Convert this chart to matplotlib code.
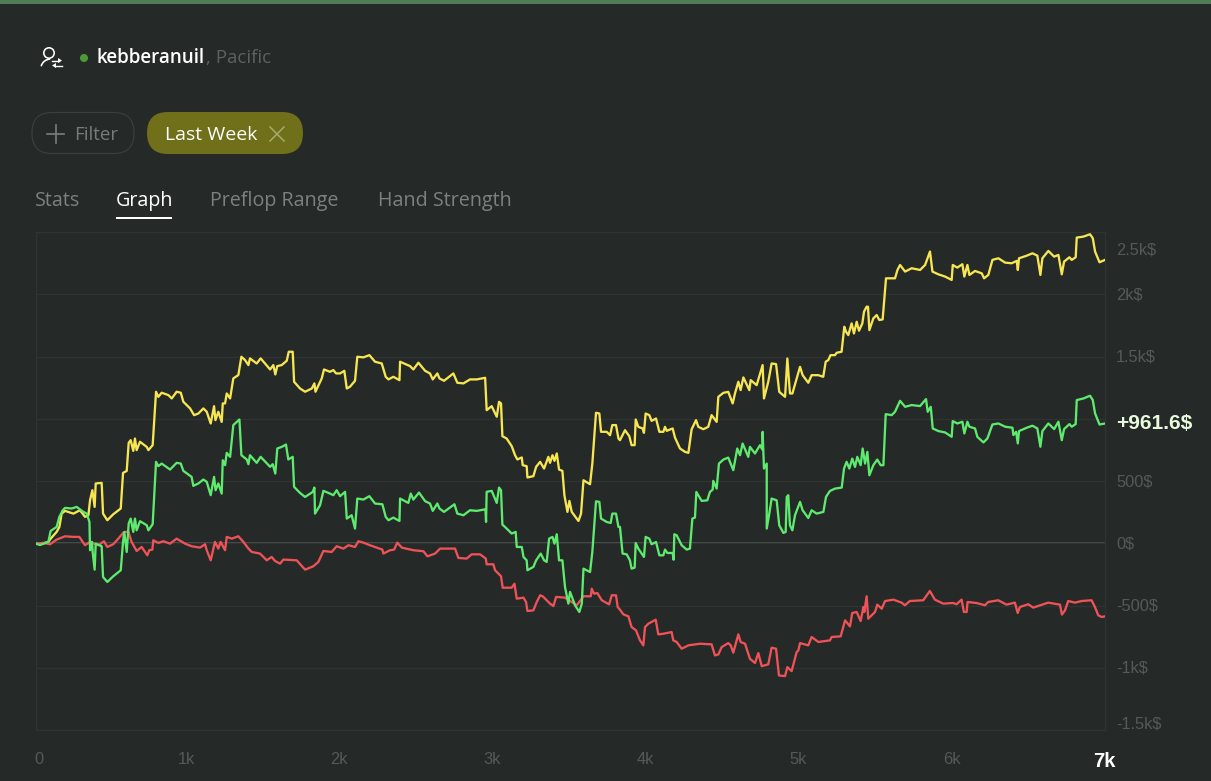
import matplotlib
matplotlib.use("Agg")
import matplotlib.pyplot as plt
from matplotlib.patches import FancyBboxPatch, Circle, Rectangle, Arc, Polygon
from matplotlib.transforms import ScaledTranslation

UI_FONT = "Open Sans"
NUM_FONT = "Liberation Sans"

x_ticks = [0, 1000, 2000, 3000, 4000, 5000, 6000, 7000]
x_labels = ["0", "1k", "2k", "3k", "4k", "5k", "6k", "7k"]
y_ticks = [-1500, -1000, -500, 0, 500, 1000, 1500, 2000, 2500]
y_labels = ["-1.5k$", "-1k$", "-500$", "0$", "500$", "", "1.5k$", "2k$", "2.5k$"]
end_label = "+961.6$"
end_value = 961.6

yellow_hands = [0,26,81,96,135,153,168,190,245,288,321,343,354,369,384,391,430,439,467,506,555,570,594,607,620,637,648,659,681,725,736,764,786,801,823,867,889,921,948,965,1009,1035,1063,1096,1118,1144,1166,1175,1194,1216,1223,1238,1249,1271,1292,1325,1345,1369,1391,1401,1445,1471,1533,1554,1567,1580,1609,1642,1655,1681,1690,1729,1762,1806,1823,1830,1871,1886,1925,1947,1965,1991,2019,2035,2056,2089,2104,2144,2183,2220,2264,2290,2308,2340,2380,2384,2449,2471,2504,2548,2580,2598,2628,2642,2672,2733,2759,2799,2842,2886,2941,2951,2984,3017,3032,3045,3054,3082,3115,3137,3152,3181,3187,3213,3218,3257,3275,3301,3327,3355,3366,3382,3395,3410,3425,3447,3460,3480,3493,3508,3552,3569,3585,3628,3643,3667,3689,3700,3737,3759,3774,3798,3814,3824,3857,3885,3900,3920,3927,3944,3972,3981,3992,4016,4031,4060,4082,4108,4119,4130,4169,4184,4217,4250,4272,4293,4322,4337,4370,4402,4424,4457,4468,4501,4533,4562,4577,4599,4614,4632,4671,4680,4719,4758,4767,4795,4817,4846,4867,4905,4920,4937,4953,5003,5020,5057,5079,5123,5155,5171,5188,5203,5232,5243,5275,5293,5304,5319,5341,5356,5374,5389,5411,5422,5439,5448,5457,5483,5505,5522,5544,5566,5625,5641,5658,5691,5734,5789,5822,5854,5870,5909,5953,5996,6003,6033,6066,6079,6099,6112,6149,6193,6208,6236,6263,6302,6346,6389,6422,6429,6437,6488,6525,6557,6577,6590,6629,6667,6695,6717,6732,6767,6782,6808,6815,6859,6902,6920,6935,6964,7000]
yellow_profit = [-3,-8,11,37,91,131,238,260,238,265,212,225,346,426,292,480,485,238,185,233,279,565,581,807,828,742,841,748,815,774,748,788,1217,1176,1209,1190,1163,1217,1209,1136,1083,1029,1042,1083,1056,962,1101,989,1056,975,1123,1123,1203,1163,1324,1351,1498,1471,1431,1485,1444,1485,1396,1431,1356,1423,1431,1466,1538,1538,1297,1243,1217,1243,1284,1217,1324,1396,1377,1391,1364,1364,1385,1243,1257,1305,1498,1493,1511,1458,1444,1337,1316,1337,1310,1458,1423,1396,1450,1385,1364,1316,1364,1324,1305,1364,1289,1284,1316,1316,1329,1069,1101,1016,1136,1123,860,841,780,707,673,689,627,619,528,539,614,654,600,694,646,707,662,721,592,581,386,252,340,252,179,238,506,474,640,1048,1042,895,895,868,949,949,841,828,908,860,788,788,994,935,922,887,1042,1029,983,1002,895,895,935,903,922,849,761,734,726,914,989,935,916,935,1029,975,1176,1208,1216,1123,1203,1297,1230,1332,1230,1310,1270,1431,1163,1297,1444,1439,1216,1176,1484,1203,1203,1417,1350,1289,1350,1350,1337,1458,1471,1511,1511,1530,1538,1739,1699,1672,1766,1685,1779,1707,1766,1860,1900,1900,1712,1806,1833,1793,1798,2128,2128,2195,2235,2182,2209,2195,2235,2343,2182,2160,2142,2115,2235,2214,2241,2142,2235,2155,2187,2168,2128,2155,2276,2289,2254,2249,2268,2195,2289,2310,2329,2310,2155,2289,2348,2302,2316,2160,2262,2297,2276,2297,2455,2463,2482,2450,2343,2257,2276]

green_hands = [0,26,81,96,135,153,175,190,234,266,310,332,350,354,367,371,384,391,430,439,467,506,555,570,578,594,607,620,637,648,659,681,725,736,764,786,801,823,878,921,948,965,1019,1030,1063,1096,1118,1144,1166,1176,1194,1216,1223,1238,1249,1271,1292,1332,1345,1380,1391,1401,1445,1471,1533,1550,1567,1580,1609,1637,1652,1681,1690,1729,1762,1812,1823,1827,1860,1882,1925,1947,1969,1991,2024,2035,2067,2089,2104,2144,2183,2220,2268,2290,2308,2340,2380,2384,2438,2454,2471,2508,2548,2580,2598,2628,2642,2672,2740,2759,2799,2842,2886,2943,2947,2951,2984,3017,3032,3045,3054,3082,3115,3141,3148,3181,3192,3213,3218,3257,3275,3305,3327,3344,3360,3382,3395,3410,3425,3447,3464,3486,3497,3530,3558,3574,3585,3628,3643,3667,3689,3700,3737,3763,3774,3798,3814,3824,3841,3868,3889,3900,3920,3927,3944,3981,3992,4016,4031,4060,4082,4108,4119,4134,4169,4175,4180,4195,4228,4261,4282,4298,4315,4324,4359,4396,4413,4431,4435,4457,4472,4501,4533,4566,4592,4610,4627,4664,4675,4708,4741,4756,4758,4767,4785,4785,4800,4817,4850,4867,4894,4909,4916,4926,4937,4953,4970,5003,5020,5057,5079,5112,5156,5173,5199,5232,5276,5291,5308,5326,5345,5363,5378,5400,5413,5429,5444,5457,5483,5509,5531,5549,5564,5603,5625,5658,5691,5734,5789,5828,5839,5859,5872,5909,5953,5996,6003,6033,6066,6079,6099,6112,6149,6164,6204,6230,6263,6302,6346,6394,6400,6418,6429,6437,6488,6525,6557,6577,6590,6629,6667,6695,6717,6732,6767,6782,6808,6815,6859,6902,6920,6935,6964,7000]
green_profit = [-3,-14,11,99,131,212,265,284,279,292,252,238,171,-56,11,-70,-212,-3,-24,-271,-311,-265,-217,11,91,-70,158,198,91,198,104,177,145,104,153,654,619,640,592,646,640,581,533,461,480,512,493,386,533,426,480,399,667,627,726,694,949,994,707,673,635,707,646,694,614,635,560,761,774,793,673,694,453,404,372,412,447,238,305,421,399,386,426,378,413,198,225,118,359,351,378,319,313,212,185,206,179,359,324,399,351,407,338,319,260,319,279,252,313,238,225,265,260,273,171,413,421,324,447,426,150,118,78,91,-30,-30,-110,-137,-217,-190,-137,-83,-137,-150,37,51,-3,72,-137,-137,-351,-485,-391,-499,-552,-485,-204,-231,-70,337,332,198,171,163,238,238,131,131,-83,-89,-137,-204,-196,2,-43,-110,51,37,-8,10,-97,-97,-51,-78,-78,-132,72,64,-16,-51,-43,198,206,412,340,345,412,431,501,439,640,672,688,587,761,707,801,694,774,721,788,753,895,600,640,118,225,359,345,144,83,91,372,386,144,104,225,332,265,203,265,238,252,372,420,439,447,600,654,600,680,613,694,627,761,640,734,546,627,672,627,627,1037,1029,1056,1144,1096,1110,1102,1158,1056,1096,922,901,890,855,981,962,976,882,976,936,922,855,810,842,954,962,936,928,869,895,802,901,928,944,922,775,901,962,917,976,828,917,957,936,957,1150,1163,1185,1150,1043,954,962]

red_hands = [0,48,92,135,190,245,284,321,354,408,445,467,506,539,572,604,626,659,692,729,742,762,768,801,834,878,921,976,1019,1074,1107,1118,1144,1172,1194,1209,1238,1249,1282,1325,1358,1391,1413,1467,1511,1543,1565,1598,1620,1707,1762,1816,1849,1882,1936,1969,2013,2046,2089,2111,2144,2187,2268,2275,2318,2345,2366,2395,2471,2537,2563,2613,2646,2744,2766,2820,2853,2908,2945,2951,2995,3006,3045,3056,3115,3133,3148,3192,3209,3218,3257,3279,3301,3318,3366,3388,3406,3464,3541,3585,3633,3639,3654,3676,3705,3753,3770,3798,3809,3824,3846,3879,3900,3929,3955,3977,3988,4010,4058,4075,4108,4162,4173,4195,4228,4272,4348,4424,4446,4468,4490,4533,4549,4566,4599,4614,4643,4675,4708,4730,4752,4795,4817,4846,4865,4905,4920,4948,4981,4992,5003,5057,5079,5123,5199,5210,5269,5298,5330,5345,5374,5400,5418,5424,5439,5450,5494,5509,5538,5560,5614,5668,5690,5722,5810,5853,5886,5941,6006,6028,6061,6076,6094,6100,6159,6214,6235,6301,6355,6410,6428,6443,6497,6530,6628,6705,6718,6738,6759,6803,6847,6912,6934,6956,6978,7000]
red_profit = [-3,3,-8,29,56,51,51,-16,11,-16,16,-30,-8,37,85,96,11,-62,-30,-97,-56,-51,24,3,16,-3,37,-3,-24,-35,-8,-56,-137,11,-43,11,-56,51,37,56,11,-43,-70,-83,-137,-110,-142,-164,-131,-137,-212,-185,-150,-62,-70,-24,-43,-16,-30,16,5,-16,-51,-83,-56,-51,5,-35,-56,-64,-105,-83,-43,-43,-118,-123,-89,-89,-123,-169,-169,-217,-265,-357,-357,-325,-445,-437,-472,-544,-539,-472,-418,-426,-485,-504,-431,-437,-499,-426,-426,-365,-405,-400,-458,-491,-418,-418,-512,-534,-571,-587,-673,-700,-780,-820,-673,-646,-614,-732,-727,-713,-780,-793,-847,-820,-807,-812,-901,-893,-834,-802,-820,-879,-732,-793,-807,-928,-962,-882,-987,-973,-839,-847,-1062,-1067,-995,-1027,-874,-861,-802,-820,-753,-793,-780,-753,-748,-619,-668,-560,-552,-625,-512,-552,-426,-606,-552,-493,-526,-464,-453,-477,-498,-464,-458,-383,-453,-485,-480,-490,-453,-552,-552,-472,-480,-498,-472,-458,-493,-477,-560,-512,-490,-517,-477,-493,-573,-539,-464,-477,-464,-458,-512,-579,-592,-587]

BG = "#252a28"
GRID = "#2f3432"
ZERO = "#505452"
TICK = "#555958"
YELLOW = "#f7e651"
GREEN = "#5eea6e"
RED = "#ef5357"

W, H = 1211, 781
fig = plt.figure(figsize=(W / 100, H / 100), dpi=100, facecolor=BG)

# chart area
ax = fig.add_axes([36 / W, 1 - 730 / H, (1105 - 36) / W, (730 - 232) / H], facecolor=BG)
ax.set_xlim(0, 7000)
ax.set_ylim(-1500, 2500)
for s in ax.spines.values():
    s.set_color(GRID)
    s.set_linewidth(1)
ax.yaxis.tick_right()
ax.set_yticks(y_ticks)
ax.set_yticklabels(y_labels, fontfamily=NUM_FONT, fontsize=11.8, color=TICK)
ax.set_xticks(x_ticks)
ax.set_xticklabels(x_labels, fontfamily=NUM_FONT, fontsize=11.8, color=TICK)
ax.tick_params(axis="both", length=0)
ax.tick_params(axis="y", pad=8)
ax.tick_params(axis="x", pad=15.5)
ax.grid(axis="y", color=GRID, linewidth=1)
ax.axhline(0, color=ZERO, linewidth=1.3, zorder=1)

def shift(label, dx, dy):
    label.set_transform(label.get_transform() + ScaledTranslation(dx / 100, dy / 100, fig.dpi_scale_trans))

for lab, dy in zip(ax.get_yticklabels(), [7, 1, 1, 1, 1, 0, 1, 1, -17]):
    shift(lab, 0, dy)
x_shift = [3, -2.5, -2.5, -2, -2, -1.5, 0, -1]
for lab, dx in zip(ax.get_xticklabels(), x_shift):
    shift(lab, dx, 0)
last = ax.get_xticklabels()[-1]
last.set_color("white")
last.set_fontweight("bold")
last.set_fontsize(14.5)

ax.plot(yellow_hands, yellow_profit, color=YELLOW, lw=1.65, zorder=3, solid_joinstyle="round")
ax.plot(red_hands, red_profit, color=RED, lw=1.65, zorder=4, solid_joinstyle="round")
ax.plot(green_hands, green_profit, color=GREEN, lw=1.65, zorder=5, solid_joinstyle="round")
ax.annotate(end_label, xy=(1, end_value), xycoords=ax.get_yaxis_transform(), xytext=(11, 0),
            textcoords="offset pixels", ha="left", va="center", fontfamily=NUM_FONT,
            fontweight="bold", fontsize=15, color="#e9fbdc", annotation_clip=False)

# page furniture, in pixel coordinates
ui = fig.add_axes([0, 0, 1, 1], facecolor="none", zorder=10)
ui.set_xlim(0, W)
ui.set_ylim(H, 0)
ui.axis("off")

ui.add_patch(Rectangle((0, 0), W, 4, color="#4f7c55", lw=0))

# user icon
ui.add_patch(Circle((49, 53), 5.2, fill=False, ec="white", lw=1.15))
ui.add_patch(Arc((51, 68), 20, 18, theta1=190, theta2=265, ec="white", lw=1.15))
ui.plot([52, 59], [60.5, 60.5], color="white", lw=1)
ui.add_patch(Polygon([[58, 58], [62, 60.5], [58, 63]], color="white", lw=0))
ui.plot([55, 62], [65.5, 65.5], color="white", lw=1)
ui.add_patch(Polygon([[56, 63], [52, 65.5], [56, 68]], color="white", lw=0))

ui.add_patch(Circle((84, 58), 4, color="#4d9a33", lw=0))
ui.text(97, 58, "kebberanuil", family=UI_FONT, fontsize=13.5, fontweight="semibold", color="white", va="center", ha="left")
ui.text(206, 58, ", Pacific", family=UI_FONT, fontsize=13.5, color="#5d6260", va="center", ha="left")

# filter pills
ui.add_patch(FancyBboxPatch((32, 112.5), 102, 41, boxstyle="round,pad=0,rounding_size=20", fc=BG, ec="#3a3f3d", lw=0.9))
ui.plot([47, 64], [133.5, 133.5], color="#7a7e7c", lw=1.2)
ui.plot([55.5, 55.5], [124.5, 142.5], color="#7a7e7c", lw=1.2)
ui.text(74, 135, "Filter", family=UI_FONT, fontsize=13.5, color="#777b79", va="center", ha="left")
ui.add_patch(FancyBboxPatch((147, 112), 156, 42, boxstyle="round,pad=0,rounding_size=21", fc="#6f7019", ec="none"))
ui.text(165, 135, "Last Week", family=UI_FONT, fontsize=14, color="white", va="center", ha="left")
ui.plot([270, 284], [127, 141], color="#a8a96f", lw=1.1)
ui.plot([284, 270], [127, 141], color="#a8a96f", lw=1.1)

# tabs
for tab_x, tab, col in [(35, "Stats", "#7c807e"), (116, "Graph", "white"),
                        (210, "Preflop Range", "#7c807e"), (378, "Hand Strength", "#7c807e")]:
    ui.text(tab_x, 201, tab, family=UI_FONT, fontsize=14.2, color=col, va="center", ha="left")
ui.add_patch(Rectangle((116, 217), 56, 2, color="white", lw=0))

fig.savefig("out.png", dpi=100, facecolor=BG)
